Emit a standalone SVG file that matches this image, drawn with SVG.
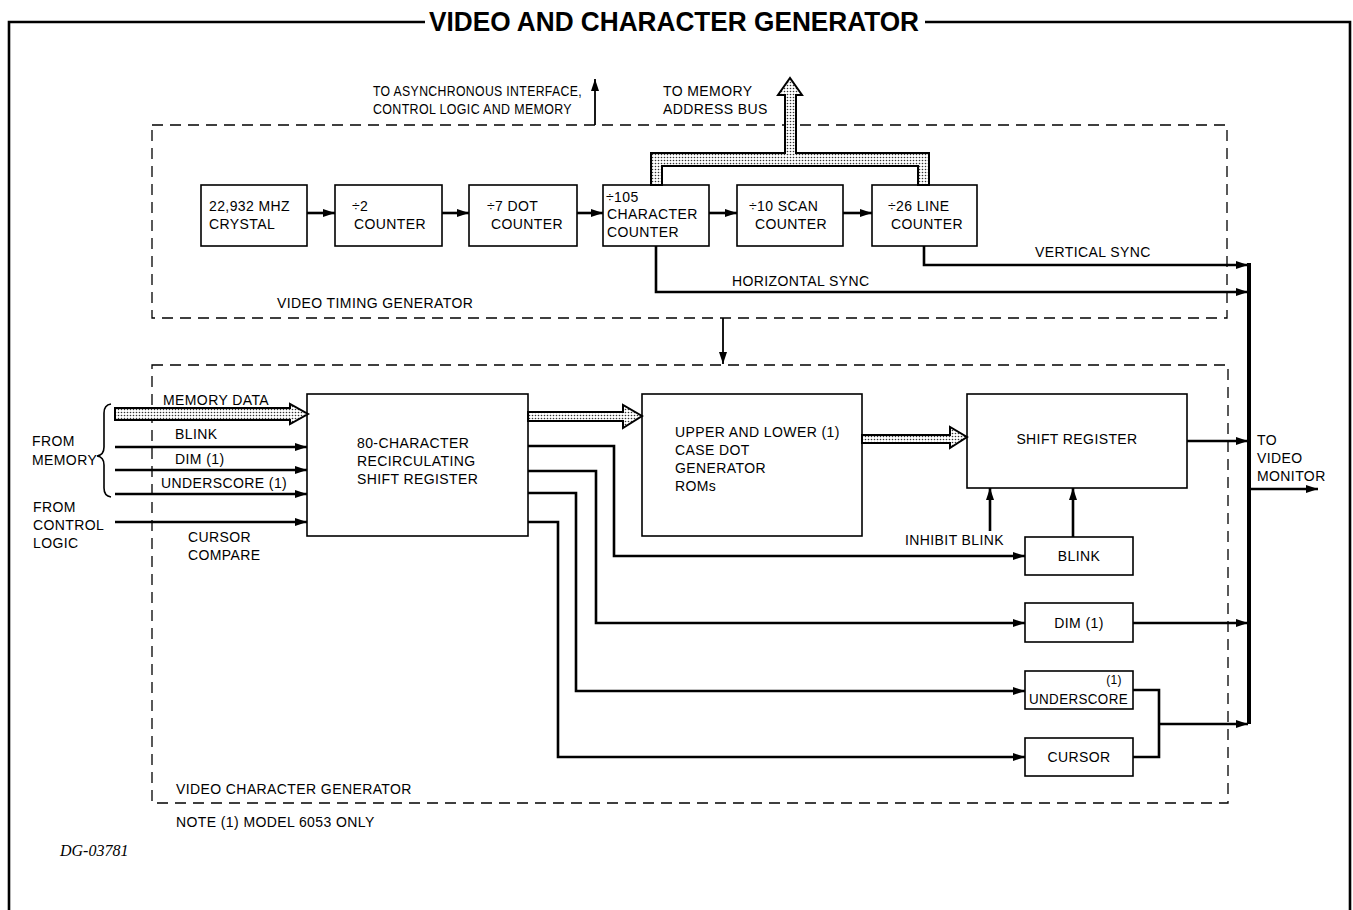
<svg xmlns="http://www.w3.org/2000/svg" width="1353" height="910" viewBox="0 0 1353 910">
<defs>
<pattern id="stip" width="3" height="3" patternUnits="userSpaceOnUse">
<rect width="3" height="3" fill="#fff"/>
<circle cx="1.5" cy="1.5" r="0.8" fill="#333"/>
</pattern>
<marker id="ah" markerUnits="userSpaceOnUse" markerWidth="14" markerHeight="10" refX="12" refY="4" orient="auto">
<path d="M0,0 L12,4 L0,8 Z" fill="#000"/>
</marker>
</defs>
<style>
text{font-family:"Liberation Sans",Arial,sans-serif;font-size:14px;letter-spacing:0.4px;fill:#000}
.box{fill:#fff;stroke:#000;stroke-width:1.6}
.dash{fill:none;stroke:#000;stroke-width:1.3;stroke-dasharray:11 7}
.w{fill:none;stroke:#000;stroke-width:2.6}
.wa{fill:none;stroke:#000;stroke-width:2.6;marker-end:url(#ah)}
.bus{fill:url(#stip);stroke:#000;stroke-width:2}
.frame{fill:none;stroke:#000;stroke-width:2.6}
</style>
<rect width="1353" height="910" fill="#fff"/>

<g id="frame">
<path class="frame" d="M9,910 V22 H425 M925,22 H1350 V910"/>
<text x="674" y="31" text-anchor="middle" style="font-size:27px;font-weight:bold;letter-spacing:0" textLength="490" lengthAdjust="spacingAndGlyphs">VIDEO AND CHARACTER GENERATOR</text>
</g>

<g id="video-timing-generator">
<rect class="dash" x="152" y="125" width="1075" height="193"/>
<text x="277" y="308">VIDEO TIMING GENERATOR</text>
</g>

<g id="video-character-generator">
<rect class="dash" x="152" y="365" width="1076" height="438"/>
<text x="176" y="794">VIDEO CHARACTER GENERATOR</text>
</g>

<g id="crystal"><rect class="box" x="201" y="185" width="106" height="61"/><text x="209" y="211">22,932 MHZ</text><text x="209" y="229">CRYSTAL</text></g>
<g id="div2"><rect class="box" x="335" y="185" width="107" height="61"/><text x="352" y="211">÷2</text><text x="354" y="229">COUNTER</text></g>
<g id="div7"><rect class="box" x="469" y="185" width="108" height="61"/><text x="487" y="211">÷7 DOT</text><text x="491" y="229">COUNTER</text></g>
<g id="div105"><rect class="box" x="603" y="185" width="106" height="61"/><text x="606" y="202">÷105</text><text x="607" y="219">CHARACTER</text><text x="607" y="237">COUNTER</text></g>
<g id="div10"><rect class="box" x="737" y="185" width="106" height="61"/><text x="749" y="211">÷10 SCAN</text><text x="755" y="229">COUNTER</text></g>
<g id="div26"><rect class="box" x="872" y="185" width="105" height="61"/><text x="888" y="211">÷26 LINE</text><text x="891" y="229">COUNTER</text></g>

<g id="recirc"><rect class="box" x="307" y="394" width="221" height="142"/><text x="357" y="448">80-CHARACTER</text><text x="357" y="466">RECIRCULATING</text><text x="357" y="484">SHIFT REGISTER</text></g>
<g id="roms"><rect class="box" x="642" y="394" width="220" height="142"/><text x="675" y="437">UPPER AND LOWER (1)</text><text x="675" y="455">CASE DOT</text><text x="675" y="473">GENERATOR</text><text x="675" y="491">ROMs</text></g>
<g id="shift"><rect class="box" x="967" y="394" width="220" height="94"/><text x="1077" y="444" text-anchor="middle">SHIFT REGISTER</text></g>
<g id="blink"><rect class="box" x="1025" y="537" width="108" height="38"/><text x="1079" y="561" text-anchor="middle">BLINK</text></g>
<g id="dim"><rect class="box" x="1025" y="603" width="108" height="39"/><text x="1079" y="628" text-anchor="middle">DIM (1)</text></g>
<g id="underscore"><rect class="box" x="1025" y="671" width="108" height="38"/><text x="1122" y="684" text-anchor="end" style="font-size:12px">(1)</text><text x="1029" y="704" textLength="99" lengthAdjust="spacingAndGlyphs">UNDERSCORE</text></g>
<g id="cursor"><rect class="box" x="1025" y="738" width="108" height="38"/><text x="1079" y="762" text-anchor="middle">CURSOR</text></g>

<g id="connectors">
<path class="wa" d="M307,213 H335"/>
<path class="wa" d="M442,213 H469"/>
<path class="wa" d="M577,213 H603"/>
<path class="wa" d="M709,213 H737"/>
<path class="wa" d="M843,213 H872"/>
<path class="wa" d="M924,246 V265 H1248"/>
<path class="wa" d="M656,246 V292 H1248"/>
<path fill="none" stroke="#000" stroke-width="4" d="M1249,263 V724"/>
<path class="wa" d="M595,125 V79" style="stroke-width:1.8"/>
<path class="wa" d="M723,318 V364" style="stroke-width:1.8"/>
<path class="bus" d="M651,185 V153 H785 V95 H778 L790,78 L802,95 H796 V153 H929 V185 H918 V166 H662 V185 Z"/>
<path class="bus" d="M115,408 H290 V404 L308,414 L290,424 V420 H115 Z"/>
<path class="bus" d="M528,412 H623 V405 L642,416 L623,428 V421 H528 Z"/>
<path class="bus" d="M862,435 H950 V427 L967,437 L950,448 V443 H862 Z"/>
<path class="wa" d="M115,447 H307"/>
<path class="wa" d="M115,470 H307"/>
<path class="wa" d="M115,494 H307"/>
<path class="wa" d="M115,522 H307"/>
<path fill="none" stroke="#000" stroke-width="1.6" d="M111,404 Q104,405 104,413 V447 Q104,455 97,456 Q104,457 104,465 V488 Q104,496 111,497"/>
<path class="wa" d="M528,446 H614 V556 H1025"/>
<path class="wa" d="M528,471 H596 V623 H1025"/>
<path class="wa" d="M528,493 H576 V691 H1025"/>
<path class="wa" d="M528,522 H558 V757 H1025"/>
<path class="wa" d="M990,531 V488"/>
<path class="wa" d="M1073,537 V488"/>
<path class="wa" d="M1187,441 H1248"/>
<path class="wa" d="M1251,489 H1318"/>
<path class="wa" d="M1133,623 H1248"/>
<path class="w" d="M1133,690 H1159 V757 H1133"/>
<path class="wa" d="M1159,724 H1248"/>
</g>

<g id="labels">
<text x="373" y="96" textLength="209" lengthAdjust="spacingAndGlyphs">TO ASYNCHRONOUS INTERFACE,</text>
<text x="373" y="114" textLength="199" lengthAdjust="spacingAndGlyphs">CONTROL LOGIC AND MEMORY</text>
<text x="663" y="96">TO MEMORY</text>
<text x="663" y="114">ADDRESS BUS</text>
<text x="732" y="286">HORIZONTAL SYNC</text>
<text x="1035" y="257">VERTICAL SYNC</text>
<text x="163" y="405">MEMORY DATA</text>
<text x="175" y="439">BLINK</text>
<text x="175" y="464">DIM (1)</text>
<text x="161" y="488">UNDERSCORE (1)</text>
<text x="32" y="446">FROM</text>
<text x="32" y="465">MEMORY</text>
<text x="33" y="512">FROM</text>
<text x="33" y="530">CONTROL</text>
<text x="33" y="548">LOGIC</text>
<text x="188" y="542">CURSOR</text>
<text x="188" y="560">COMPARE</text>
<text x="905" y="545">INHIBIT BLINK</text>
<text x="1257" y="445">TO</text>
<text x="1257" y="463">VIDEO</text>
<text x="1257" y="481">MONITOR</text>
<text x="176" y="827">NOTE (1) MODEL 6053 ONLY</text>
<text x="60" y="856" style="font-family:'Liberation Serif',serif;font-style:italic;font-size:16px;letter-spacing:0">DG-03781</text>
</g>
</svg>
